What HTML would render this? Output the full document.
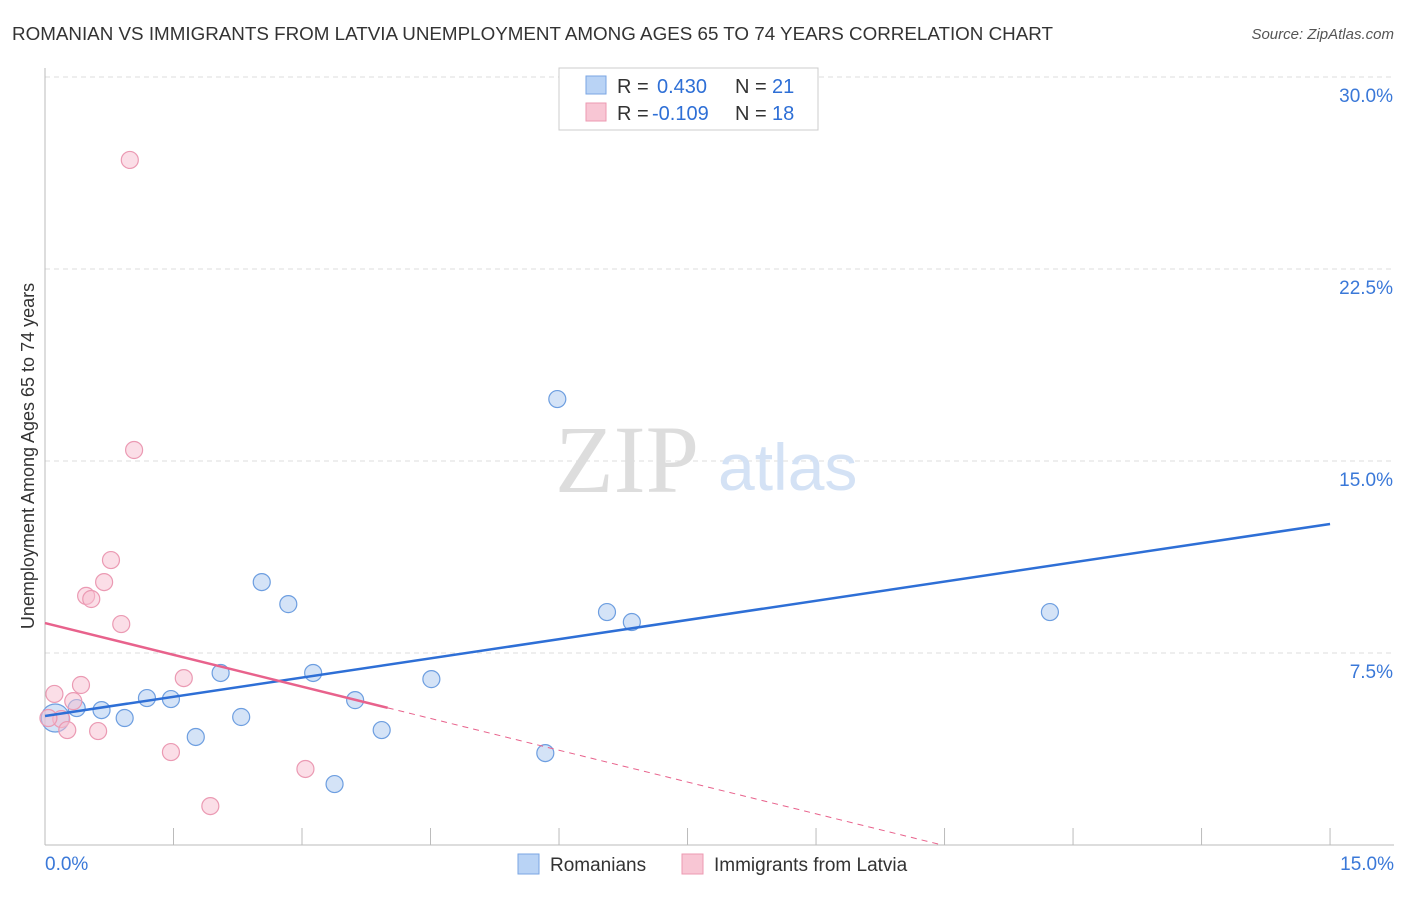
<!DOCTYPE html>
<html><head><meta charset="utf-8"><style>
body{margin:0;background:#fff;font-family:"Liberation Sans",sans-serif;}
svg text{font-family:"Liberation Sans",sans-serif;}
</style></head><body>
<svg id="c" width="1406" height="892">
<text x="12" y="40" font-size="18" fill="#333" textLength="1041" lengthAdjust="spacingAndGlyphs">ROMANIAN VS IMMIGRANTS FROM LATVIA UNEMPLOYMENT AMONG AGES 65 TO 74 YEARS CORRELATION CHART</text>
<text x="1394" y="39" font-size="15" fill="#555" text-anchor="end" font-style="italic">Source: ZipAtlas.com</text>
<text x="34" y="456" font-size="18" fill="#333" text-anchor="middle" transform="rotate(-90 34 456)">Unemployment Among Ages 65 to 74 years</text>
<g id="grid"></g>
<text x="555" y="492" font-size="96" fill="#ddd" style="font-family:'Liberation Serif',serif">ZIP</text>
<text x="718" y="490" font-size="66" fill="#d4e2f5">atlas</text>
<g id="marks"></g>
<g>
<rect x="559" y="68" width="259" height="62" fill="#fff" stroke="#ccc"/>
<rect x="586" y="76" width="20" height="18" fill="#b9d3f5" stroke="#7aa6e3"/>
<text x="617" y="93" font-size="20" fill="#333">R =</text>
<text x="657" y="93" font-size="20" fill="#2e6fd6">0.430</text>
<text x="735" y="93" font-size="20" fill="#333">N =</text>
<text x="772" y="93" font-size="20" fill="#2e6fd6">21</text>
<rect x="586" y="103" width="20" height="18" fill="#f8c6d4" stroke="#ec9ab2"/>
<text x="617" y="120" font-size="20" fill="#333">R =</text>
<text x="652" y="120" font-size="20" fill="#2e6fd6">-0.109</text>
<text x="735" y="120" font-size="20" fill="#333">N =</text>
<text x="772" y="120" font-size="20" fill="#2e6fd6">18</text>
</g>
<g>
<rect x="518" y="854" width="21" height="20" fill="#b9d3f5" stroke="#7aa6e3"/>
<text x="550" y="871" font-size="19" fill="#333">Romanians</text>
<rect x="682" y="854" width="21" height="20" fill="#f8c6d4" stroke="#ec9ab2"/>
<text x="714" y="871" font-size="19" fill="#333">Immigrants from Latvia</text>
</g>
</svg>
<script>
const yTicks=[7.5,15,22.5,30];
const yTickLabels=["7.5%","15.0%","22.5%","30.0%"];
const xTickLabels=["0.0%","15.0%"];
const romX=[0.12,0.37,0.66,0.93,1.19,1.47,1.76,2.05,2.29,2.53,2.84,3.13,3.38,3.62,3.93,4.51,5.84,5.98,6.56,6.85,11.73];
const romY=[4.96,5.35,5.27,4.96,5.74,5.70,4.22,6.72,5.0,10.27,9.41,6.72,2.38,5.66,4.49,6.48,3.59,17.42,9.1,8.71,9.1];
const latX=[0.99,1.04,0.77,0.69,0.48,0.54,0.89,1.62,0.42,0.11,0.33,0.19,0.26,0.62,1.47,3.04,1.93,0.04];
const latY=[26.76,15.43,11.13,10.27,9.73,9.61,8.63,6.52,6.25,5.9,5.62,4.92,4.49,4.45,3.63,2.97,1.52,4.96];
const romLine=[5.04,12.54];
const latIntercept=8.67, latSlope=-0.828;
const sx=v=>45+v*85.67, sy=v=>845-v*25.6;
const NS="http://www.w3.org/2000/svg";
function mk(t,a,p){const e=document.createElementNS(NS,t);for(const k in a)e.setAttribute(k,a[k]);p.appendChild(e);return e;}
const g=document.getElementById('grid'), m=document.getElementById('marks');
yTicks.forEach((t,i)=>{
 const l=mk('line',{x1:45,x2:1394,y1:sy(t),y2:sy(t),stroke:'#ddd','stroke-dasharray':'5,4'},g);
 
 
 const tx=mk('text',{x:1393,y:sy(t)+25,'font-size':19,fill:'#3a78d8','text-anchor':'end'},g);
 tx.textContent=yTickLabels[i];
 
 
});
mk('line',{x1:45,x2:45,y1:68,y2:845,stroke:'#bbb'},g);
mk('line',{x1:45,x2:1394,y1:845,y2:845,stroke:'#bbb'},g);
for(let i=1;i<=10;i++){const x=sx(i*1.5);mk('line',{x1:x,x2:x,y1:828,y2:845,stroke:'#bbb'},g);}
[[0,'start',45],[1,'end',1394]].forEach(([i,a,x])=>{const t=mk('text',{x:x,y:870,'font-size':19,fill:'#3a78d8','text-anchor':a},g);t.textContent=xTickLabels[i];});
romX.forEach((x,i)=>{const c=mk('circle',{cx:sx(x),cy:sy(romY[i]),r:i==0?14:8.5,fill:'rgba(170,200,240,0.5)',stroke:'#6d9ee0','stroke-width':1.2},m);

});
latX.forEach((x,i)=>{const c=mk('circle',{cx:sx(x),cy:sy(latY[i]),r:8.5,fill:'rgba(248,190,208,0.5)',stroke:'#eb9ab3','stroke-width':1.2},m);

});
const bl=mk('line',{x1:sx(0),y1:sy(romLine[0]),x2:sx(15),y2:sy(romLine[1]),stroke:'#2e6fd6','stroke-width':2.5},m);


const pl=mk('line',{x1:sx(0),y1:sy(latIntercept),x2:sx(4),y2:sy(latIntercept+latSlope*4),stroke:'#e8628c','stroke-width':2.5},m);


const xe=-latIntercept/latSlope;
const pd=mk('line',{x1:sx(4),y1:sy(latIntercept+latSlope*4),x2:sx(xe),y2:sy(0),stroke:'#e8628c','stroke-width':1,'stroke-dasharray':'6,5'},m);


</script>
</body></html>
